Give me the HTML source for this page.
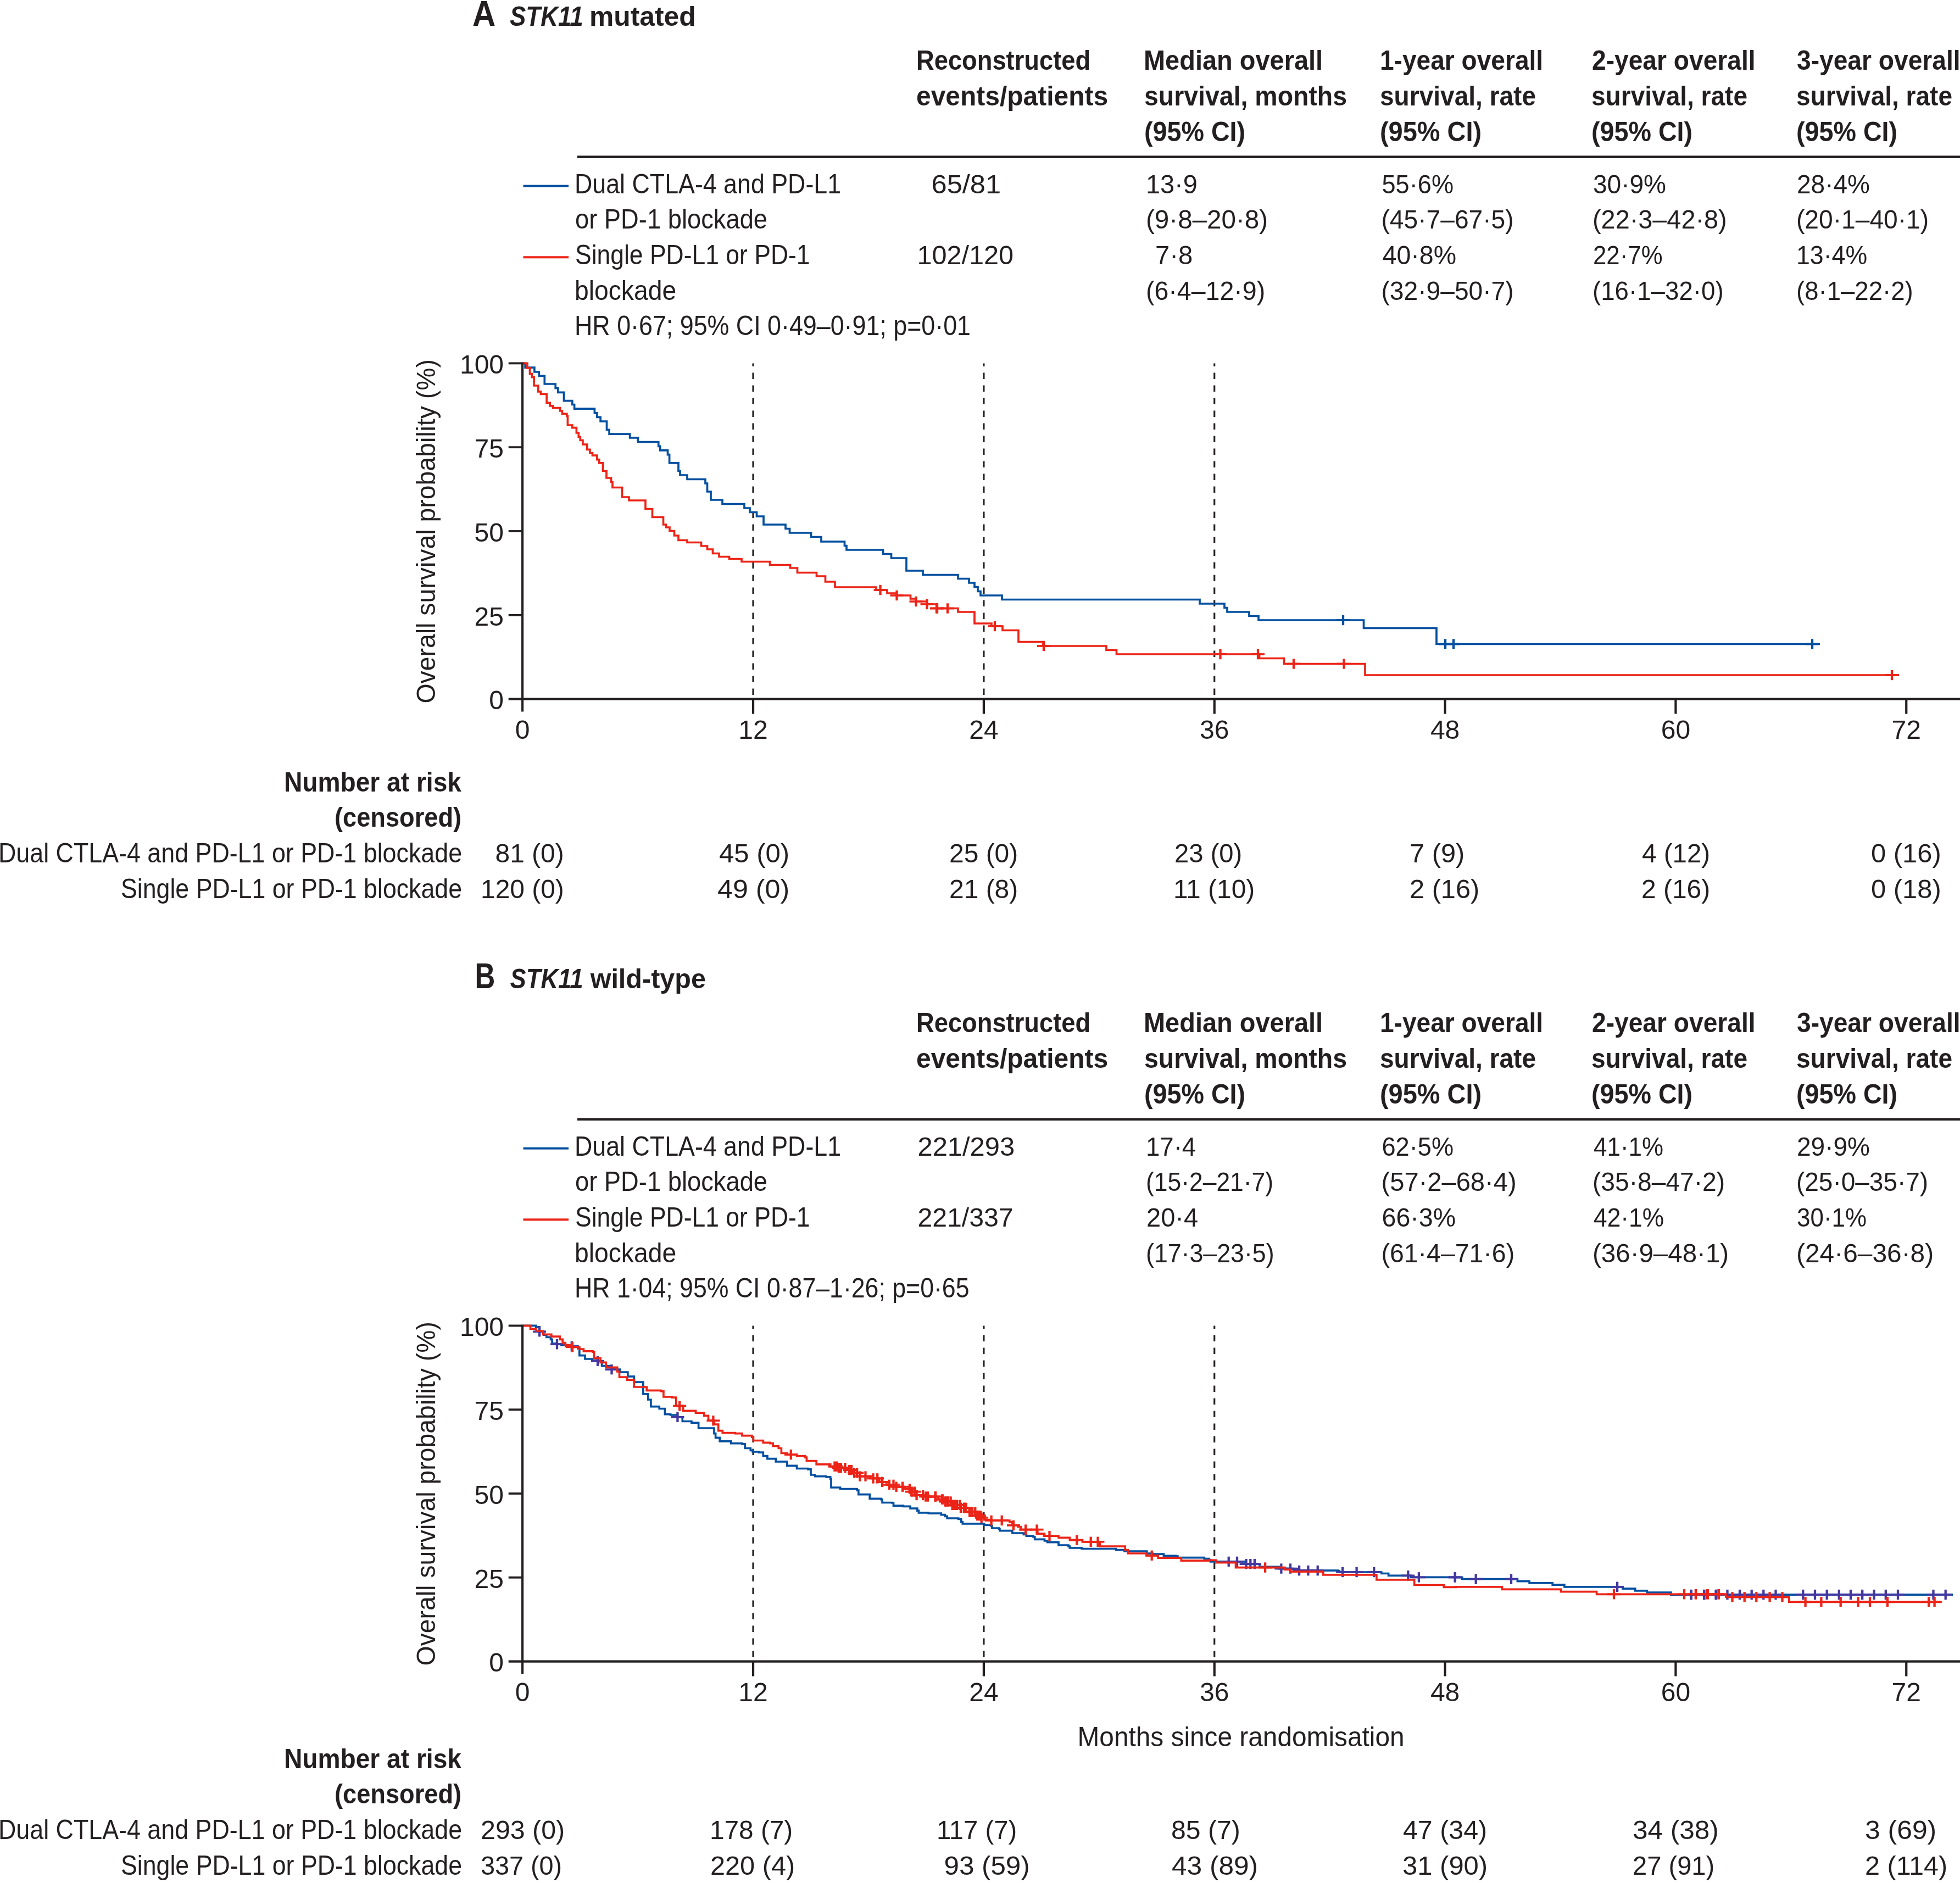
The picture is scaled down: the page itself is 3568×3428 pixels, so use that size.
<!DOCTYPE html>
<html><head><meta charset="utf-8"><style>
html,body{margin:0;padding:0;background:#fff;width:3568px;height:3428px;overflow:hidden}
svg{display:block;will-change:transform;font-family:"Liberation Sans",sans-serif}
</style></head><body>
<svg width="3568" height="3428" viewBox="0 0 3568 3428">
<rect width="3568" height="3428" fill="#ffffff"/>
<text x="860.00" y="46.50" font-size="65" font-weight="bold" font-style="normal" fill="#231f20" textLength="42.19" lengthAdjust="spacingAndGlyphs">A</text>
<text x="928.00" y="46.50" font-size="50" font-weight="bold" font-style="italic" fill="#231f20" textLength="133.59" lengthAdjust="spacingAndGlyphs">STK11</text>
<text x="1073.00" y="46.50" font-size="50" font-weight="bold" font-style="normal" fill="#231f20" textLength="193.69" lengthAdjust="spacingAndGlyphs">mutated</text>
<text x="1668.00" y="127.30" font-size="50" font-weight="bold" font-style="normal" fill="#231f20" textLength="317.10" lengthAdjust="spacingAndGlyphs">Reconstructed</text>
<text x="1668.00" y="192.30" font-size="50" font-weight="bold" font-style="normal" fill="#231f20" textLength="349.06" lengthAdjust="spacingAndGlyphs">events/patients</text>
<text x="2082.00" y="127.30" font-size="50" font-weight="bold" font-style="normal" fill="#231f20" textLength="326.11" lengthAdjust="spacingAndGlyphs">Median overall</text>
<text x="2083.00" y="192.30" font-size="50" font-weight="bold" font-style="normal" fill="#231f20" textLength="369.03" lengthAdjust="spacingAndGlyphs">survival, months</text>
<text x="2083.00" y="256.50" font-size="50" font-weight="bold" font-style="normal" fill="#231f20" textLength="184.11" lengthAdjust="spacingAndGlyphs">(95% CI)</text>
<text x="2512.00" y="127.30" font-size="50" font-weight="bold" font-style="normal" fill="#231f20" textLength="297.11" lengthAdjust="spacingAndGlyphs">1-year overall</text>
<text x="2512.00" y="192.30" font-size="50" font-weight="bold" font-style="normal" fill="#231f20" textLength="284.05" lengthAdjust="spacingAndGlyphs">survival, rate</text>
<text x="2512.00" y="256.50" font-size="50" font-weight="bold" font-style="normal" fill="#231f20" textLength="185.11" lengthAdjust="spacingAndGlyphs">(95% CI)</text>
<text x="2898.00" y="127.30" font-size="50" font-weight="bold" font-style="normal" fill="#231f20" textLength="297.55" lengthAdjust="spacingAndGlyphs">2-year overall</text>
<text x="2897.00" y="192.30" font-size="50" font-weight="bold" font-style="normal" fill="#231f20" textLength="284.05" lengthAdjust="spacingAndGlyphs">survival, rate</text>
<text x="2897.00" y="256.50" font-size="50" font-weight="bold" font-style="normal" fill="#231f20" textLength="184.11" lengthAdjust="spacingAndGlyphs">(95% CI)</text>
<text x="3271.00" y="127.30" font-size="50" font-weight="bold" font-style="normal" fill="#231f20" textLength="297.55" lengthAdjust="spacingAndGlyphs">3-year overall</text>
<text x="3270.00" y="192.30" font-size="50" font-weight="bold" font-style="normal" fill="#231f20" textLength="284.05" lengthAdjust="spacingAndGlyphs">survival, rate</text>
<text x="3270.00" y="256.50" font-size="50" font-weight="bold" font-style="normal" fill="#231f20" textLength="184.11" lengthAdjust="spacingAndGlyphs">(95% CI)</text>
<rect x="1051" y="283.4" width="2517" height="4.5" fill="#231f20"/>
<rect x="952.5" y="336.6" width="82.5" height="4" fill="#0450a0"/>
<rect x="952.5" y="466.3" width="82.5" height="4" fill="#ec2418"/>
<text x="1046.00" y="351.50" font-size="49.5" font-weight="normal" font-style="normal" fill="#231f20" textLength="485.07" lengthAdjust="spacingAndGlyphs">Dual CTLA-4 and PD-L1</text>
<text x="1047.00" y="416.00" font-size="49.5" font-weight="normal" font-style="normal" fill="#231f20" textLength="350.05" lengthAdjust="spacingAndGlyphs">or PD-1 blockade</text>
<text x="1047.00" y="481.00" font-size="49.5" font-weight="normal" font-style="normal" fill="#231f20" textLength="427.55" lengthAdjust="spacingAndGlyphs">Single PD-L1 or PD-1</text>
<text x="1046.00" y="545.50" font-size="49.5" font-weight="normal" font-style="normal" fill="#231f20" textLength="185.14" lengthAdjust="spacingAndGlyphs">blockade</text>
<text x="1046.00" y="610.00" font-size="49.5" font-weight="normal" font-style="normal" fill="#231f20" textLength="721.03" lengthAdjust="spacingAndGlyphs">HR 0·67; 95% CI 0·49–0·91; p=0·01</text>
<text x="1695.50" y="351.50" font-size="48" font-weight="normal" font-style="normal" fill="#231f20" textLength="126.68" lengthAdjust="spacingAndGlyphs">65/81</text>
<text x="1669.50" y="481.00" font-size="48" font-weight="normal" font-style="normal" fill="#231f20" textLength="175.65" lengthAdjust="spacingAndGlyphs">102/120</text>
<text x="2086.00" y="351.50" font-size="48" font-weight="normal" font-style="normal" fill="#231f20" textLength="93.80" lengthAdjust="spacingAndGlyphs">13·9</text>
<text x="2086.00" y="416.00" font-size="48" font-weight="normal" font-style="normal" fill="#231f20" textLength="222.17" lengthAdjust="spacingAndGlyphs">(9·8–20·8)</text>
<text x="2103.00" y="481.00" font-size="48" font-weight="normal" font-style="normal" fill="#231f20" textLength="68.28" lengthAdjust="spacingAndGlyphs">7·8</text>
<text x="2086.00" y="545.50" font-size="48" font-weight="normal" font-style="normal" fill="#231f20" textLength="217.12" lengthAdjust="spacingAndGlyphs">(6·4–12·9)</text>
<text x="2515.50" y="351.50" font-size="48" font-weight="normal" font-style="normal" fill="#231f20" textLength="130.55" lengthAdjust="spacingAndGlyphs">55·6%</text>
<text x="2514.50" y="416.00" font-size="48" font-weight="normal" font-style="normal" fill="#231f20" textLength="241.15" lengthAdjust="spacingAndGlyphs">(45·7–67·5)</text>
<text x="2516.50" y="481.00" font-size="48" font-weight="normal" font-style="normal" fill="#231f20" textLength="134.51" lengthAdjust="spacingAndGlyphs">40·8%</text>
<text x="2514.50" y="545.50" font-size="48" font-weight="normal" font-style="normal" fill="#231f20" textLength="241.15" lengthAdjust="spacingAndGlyphs">(32·9–50·7)</text>
<text x="2900.00" y="351.50" font-size="48" font-weight="normal" font-style="normal" fill="#231f20" textLength="133.05" lengthAdjust="spacingAndGlyphs">30·9%</text>
<text x="2899.00" y="416.00" font-size="48" font-weight="normal" font-style="normal" fill="#231f20" textLength="244.65" lengthAdjust="spacingAndGlyphs">(22·3–42·8)</text>
<text x="2900.00" y="481.00" font-size="48" font-weight="normal" font-style="normal" fill="#231f20" textLength="126.58" lengthAdjust="spacingAndGlyphs">22·7%</text>
<text x="2899.00" y="545.50" font-size="48" font-weight="normal" font-style="normal" fill="#231f20" textLength="238.63" lengthAdjust="spacingAndGlyphs">(16·1–32·0)</text>
<text x="3271.00" y="351.50" font-size="48" font-weight="normal" font-style="normal" fill="#231f20" textLength="133.05" lengthAdjust="spacingAndGlyphs">28·4%</text>
<text x="3270.00" y="416.00" font-size="48" font-weight="normal" font-style="normal" fill="#231f20" textLength="241.16" lengthAdjust="spacingAndGlyphs">(20·1–40·1)</text>
<text x="3270.00" y="481.00" font-size="48" font-weight="normal" font-style="normal" fill="#231f20" textLength="129.12" lengthAdjust="spacingAndGlyphs">13·4%</text>
<text x="3270.00" y="545.50" font-size="48" font-weight="normal" font-style="normal" fill="#231f20" textLength="212.64" lengthAdjust="spacingAndGlyphs">(8·1–22·2)</text>
<text transform="translate(792,967.3) rotate(-90)" text-anchor="middle" font-size="48" fill="#231f20" textLength="626.5" lengthAdjust="spacingAndGlyphs">Overall survival probability (%)</text>
<line x1="1371.04" y1="661.40" x2="1371.04" y2="1272.60" stroke="#231f20" stroke-width="3.2" stroke-dasharray="11.5,11.5" stroke-dashoffset="6"/>
<line x1="1790.89" y1="661.40" x2="1790.89" y2="1272.60" stroke="#231f20" stroke-width="3.2" stroke-dasharray="11.5,11.5" stroke-dashoffset="6"/>
<line x1="2210.73" y1="661.40" x2="2210.73" y2="1272.60" stroke="#231f20" stroke-width="3.2" stroke-dasharray="11.5,11.5" stroke-dashoffset="6"/>
<path d="M951.2,661.4 L956.1,661.4 L956.1,669.1 L972.9,669.1 L972.9,676.8 L981.3,676.8 L981.3,684.4 L991.3,684.4 L991.3,699.0 L1011.2,699.0 L1011.2,706.6 L1015.8,706.6 L1015.8,714.3 L1026.5,714.3 L1026.5,729.6 L1041.8,729.6 L1041.8,736.5 L1045.6,736.5 L1045.6,744.1 L1082.4,744.1 L1082.4,751.8 L1086.9,751.8 L1086.9,759.4 L1093.1,759.4 L1093.1,767.1 L1104.5,767.1 L1104.5,782.4 L1109.1,782.4 L1109.1,790.1 L1146.6,790.1 L1146.6,796.9 L1161.2,796.9 L1161.2,804.6 L1198.7,804.6 L1198.7,812.3 L1201.7,812.3 L1201.7,819.9 L1215.5,819.9 L1215.5,827.6 L1218.6,827.6 L1218.6,842.9 L1235.0,842.9 L1235.0,857.5 L1238.0,857.5 L1238.0,865.0 L1251.0,865.0 L1251.0,872.5 L1284.0,872.5 L1284.0,880.0 L1287.5,880.0 L1287.5,895.0 L1294.0,895.0 L1294.0,910.0 L1315.0,910.0 L1315.0,917.5 L1355.0,917.5 L1355.0,925.0 L1365.0,925.0 L1365.0,932.5 L1377.5,932.5 L1377.5,940.0 L1390.0,940.0 L1390.0,955.0 L1430.0,955.0 L1430.0,962.5 L1437.5,962.5 L1437.5,970.0 L1476.5,970.0 L1476.5,977.5 L1495.0,977.5 L1495.0,986.0 L1537.5,986.0 L1537.5,993.5 L1541.0,993.5 L1541.0,1001.0 L1607.5,1001.0 L1607.5,1008.5 L1622.5,1008.5 L1622.5,1016.0 L1650.0,1016.0 L1650.0,1039.0 L1680.0,1039.0 L1680.0,1046.5 L1744.0,1046.5 L1744.0,1053.5 L1764.0,1053.5 L1764.0,1061.0 L1774.0,1061.0 L1774.0,1068.5 L1780.0,1068.5 L1780.0,1076.5 L1785.0,1076.5 L1785.0,1084.0 L1824.0,1084.0 L1824.0,1091.5 L2184.0,1091.5 L2184.0,1099.0 L2229.0,1099.0 L2229.0,1106.5 L2234.0,1106.5 L2234.0,1114.0 L2274.0,1114.0 L2274.0,1121.5 L2291.0,1121.5 L2291.0,1129.0 L2482.5,1129.0 L2482.5,1143.5 L2615.0,1143.5 L2615.0,1172.5 L3313.0,1172.5 L3313.0,1172.5" fill="none" stroke="#0450a0" stroke-width="3.7" stroke-linejoin="miter" stroke-linecap="butt"/>
<path d="M2433.0,1129.0 H2457.0" stroke="#0450a0" stroke-width="3.7" fill="none"/><path d="M2445.0,1119.8 V1138.2" stroke="#0450a0" stroke-width="4.3" fill="none"/>
<path d="M2619.0,1172.5 H2643.0" stroke="#0450a0" stroke-width="3.7" fill="none"/><path d="M2631.0,1163.3 V1181.7" stroke="#0450a0" stroke-width="4.3" fill="none"/>
<path d="M2634.0,1172.5 H2658.0" stroke="#0450a0" stroke-width="3.7" fill="none"/><path d="M2646.0,1163.3 V1181.7" stroke="#0450a0" stroke-width="4.3" fill="none"/>
<path d="M3287.0,1172.5 H3311.0" stroke="#0450a0" stroke-width="3.7" fill="none"/><path d="M3299.0,1163.3 V1181.7" stroke="#0450a0" stroke-width="4.3" fill="none"/>
<path d="M951.2,661.4 L959.9,661.4 L959.9,669.9 L964.5,669.9 L964.5,680.6 L968.3,680.6 L968.3,686.7 L972.1,686.7 L972.1,702.0 L979.8,702.0 L979.8,712.8 L984.4,712.8 L984.4,717.3 L995.1,717.3 L995.1,733.4 L1001.2,733.4 L1001.2,738.8 L1006.6,738.8 L1006.6,742.6 L1019.6,742.6 L1019.6,748.0 L1023.4,748.0 L1023.4,753.3 L1031.8,753.3 L1031.8,757.1 L1033.4,757.1 L1033.4,774.0 L1041.8,774.0 L1041.8,778.6 L1049.4,778.6 L1049.4,787.8 L1053.3,787.8 L1053.3,795.4 L1056.3,795.4 L1056.3,801.5 L1060.9,801.5 L1060.9,809.2 L1068.6,809.2 L1068.6,818.4 L1073.9,818.4 L1073.9,824.5 L1078.5,824.5 L1078.5,829.1 L1086.9,829.1 L1086.9,836.7 L1090.8,836.7 L1090.8,842.9 L1097.5,842.9 L1097.5,857.5 L1104.0,857.5 L1104.0,870.0 L1112.5,870.0 L1112.5,877.5 L1115.0,877.5 L1115.0,887.5 L1132.5,887.5 L1132.5,905.0 L1145.0,905.0 L1145.0,911.0 L1175.0,911.0 L1175.0,926.5 L1187.5,926.5 L1187.5,941.5 L1207.5,941.5 L1207.5,955.0 L1212.5,955.0 L1212.5,960.0 L1219.0,960.0 L1219.0,966.5 L1227.5,966.5 L1227.5,975.0 L1235.0,975.0 L1235.0,983.5 L1251.0,983.5 L1251.0,987.5 L1276.5,987.5 L1276.5,994.0 L1287.5,994.0 L1287.5,1000.0 L1297.5,1000.0 L1297.5,1007.5 L1309.0,1007.5 L1309.0,1013.5 L1327.5,1013.5 L1327.5,1017.5 L1350.0,1017.5 L1350.0,1022.5 L1401.5,1022.5 L1401.5,1028.5 L1438.5,1028.5 L1438.5,1034.0 L1451.5,1034.0 L1451.5,1042.5 L1486.5,1042.5 L1486.5,1049.0 L1502.5,1049.0 L1502.5,1059.0 L1520.0,1059.0 L1520.0,1069.0 L1595.0,1069.0 L1595.0,1074.0 L1615.0,1074.0 L1615.0,1080.0 L1632.5,1080.0 L1632.5,1084.0 L1657.5,1084.0 L1657.5,1090.0 L1667.5,1090.0 L1667.5,1095.0 L1687.5,1095.0 L1687.5,1100.0 L1705.0,1100.0 L1705.0,1107.5 L1744.0,1107.5 L1744.0,1114.0 L1774.0,1114.0 L1774.0,1135.0 L1805.0,1135.0 L1805.0,1140.0 L1825.0,1140.0 L1825.0,1147.5 L1854.0,1147.5 L1854.0,1168.5 L1899.0,1168.5 L1899.0,1176.0 L2014.0,1176.0 L2014.0,1183.5 L2032.5,1183.5 L2032.5,1191.0 L2292.5,1191.0 L2292.5,1198.5 L2337.5,1198.5 L2337.5,1208.5 L2485.0,1208.5 L2485.0,1229.0 L3457.0,1229.0 L3457.0,1229.0" fill="none" stroke="#ec2418" stroke-width="3.7" stroke-linejoin="miter" stroke-linecap="butt"/>
<path d="M1590.5,1074.0 H1614.5" stroke="#ec2418" stroke-width="3.7" fill="none"/><path d="M1602.5,1064.8 V1083.2" stroke="#ec2418" stroke-width="4.3" fill="none"/>
<path d="M1620.5,1084.0 H1644.5" stroke="#ec2418" stroke-width="3.7" fill="none"/><path d="M1632.5,1074.8 V1093.2" stroke="#ec2418" stroke-width="4.3" fill="none"/>
<path d="M1655.5,1095.0 H1679.5" stroke="#ec2418" stroke-width="3.7" fill="none"/><path d="M1667.5,1085.8 V1104.2" stroke="#ec2418" stroke-width="4.3" fill="none"/>
<path d="M1675.5,1100.0 H1699.5" stroke="#ec2418" stroke-width="3.7" fill="none"/><path d="M1687.5,1090.8 V1109.2" stroke="#ec2418" stroke-width="4.3" fill="none"/>
<path d="M1693.0,1107.5 H1717.0" stroke="#ec2418" stroke-width="3.7" fill="none"/><path d="M1705.0,1098.3 V1116.7" stroke="#ec2418" stroke-width="4.3" fill="none"/>
<path d="M1694.0,1107.5 H1718.0" stroke="#ec2418" stroke-width="3.7" fill="none"/><path d="M1706.0,1098.3 V1116.7" stroke="#ec2418" stroke-width="4.3" fill="none"/>
<path d="M1713.0,1107.5 H1737.0" stroke="#ec2418" stroke-width="3.7" fill="none"/><path d="M1725.0,1098.3 V1116.7" stroke="#ec2418" stroke-width="4.3" fill="none"/>
<path d="M1799.0,1140.0 H1823.0" stroke="#ec2418" stroke-width="3.7" fill="none"/><path d="M1811.0,1130.8 V1149.2" stroke="#ec2418" stroke-width="4.3" fill="none"/>
<path d="M1888.0,1176.0 H1912.0" stroke="#ec2418" stroke-width="3.7" fill="none"/><path d="M1900.0,1166.8 V1185.2" stroke="#ec2418" stroke-width="4.3" fill="none"/>
<path d="M2209.5,1191.0 H2233.5" stroke="#ec2418" stroke-width="3.7" fill="none"/><path d="M2221.5,1181.8 V1200.2" stroke="#ec2418" stroke-width="4.3" fill="none"/>
<path d="M2278.0,1191.0 H2302.0" stroke="#ec2418" stroke-width="3.7" fill="none"/><path d="M2290.0,1181.8 V1200.2" stroke="#ec2418" stroke-width="4.3" fill="none"/>
<path d="M2343.0,1208.5 H2367.0" stroke="#ec2418" stroke-width="3.7" fill="none"/><path d="M2355.0,1199.3 V1217.7" stroke="#ec2418" stroke-width="4.3" fill="none"/>
<path d="M2434.5,1208.5 H2458.5" stroke="#ec2418" stroke-width="3.7" fill="none"/><path d="M2446.5,1199.3 V1217.7" stroke="#ec2418" stroke-width="4.3" fill="none"/>
<path d="M3432.0,1229.0 H3456.0" stroke="#ec2418" stroke-width="3.7" fill="none"/><path d="M3444.0,1219.8 V1238.2" stroke="#ec2418" stroke-width="4.3" fill="none"/>
<line x1="951.10" y1="659.70" x2="951.10" y2="1295.60" stroke="#231f20" stroke-width="4.1" />
<line x1="925.70" y1="1272.60" x2="3568.00" y2="1272.60" stroke="#231f20" stroke-width="4.1" />
<line x1="925.70" y1="661.40" x2="951.10" y2="661.40" stroke="#231f20" stroke-width="3.8" />
<line x1="925.70" y1="814.20" x2="951.10" y2="814.20" stroke="#231f20" stroke-width="3.8" />
<line x1="925.70" y1="967.00" x2="951.10" y2="967.00" stroke="#231f20" stroke-width="3.8" />
<line x1="925.70" y1="1119.80" x2="951.10" y2="1119.80" stroke="#231f20" stroke-width="3.8" />
<line x1="1371.04" y1="1272.60" x2="1371.04" y2="1299.60" stroke="#231f20" stroke-width="4.2" />
<line x1="1790.89" y1="1272.60" x2="1790.89" y2="1299.60" stroke="#231f20" stroke-width="4.2" />
<line x1="2210.73" y1="1272.60" x2="2210.73" y2="1299.60" stroke="#231f20" stroke-width="4.2" />
<line x1="2630.58" y1="1272.60" x2="2630.58" y2="1299.60" stroke="#231f20" stroke-width="4.2" />
<line x1="3050.42" y1="1272.60" x2="3050.42" y2="1299.60" stroke="#231f20" stroke-width="4.2" />
<line x1="3470.26" y1="1272.60" x2="3470.26" y2="1299.60" stroke="#231f20" stroke-width="4.2" />
<text x="836.94" y="680.20" font-size="48" font-weight="normal" font-style="normal" fill="#231f20" textLength="80.09" lengthAdjust="spacingAndGlyphs">100</text>
<text x="863.62" y="833.00" font-size="48" font-weight="normal" font-style="normal" fill="#231f20" textLength="53.39" lengthAdjust="spacingAndGlyphs">75</text>
<text x="863.62" y="985.80" font-size="48" font-weight="normal" font-style="normal" fill="#231f20" textLength="53.39" lengthAdjust="spacingAndGlyphs">50</text>
<text x="863.62" y="1138.60" font-size="48" font-weight="normal" font-style="normal" fill="#231f20" textLength="53.39" lengthAdjust="spacingAndGlyphs">25</text>
<text x="890.31" y="1291.40" font-size="48" font-weight="normal" font-style="normal" fill="#231f20" textLength="26.70" lengthAdjust="spacingAndGlyphs">0</text>
<text x="937.86" y="1345.30" font-size="48" font-weight="normal" font-style="normal" fill="#231f20" textLength="26.70" lengthAdjust="spacingAndGlyphs">0</text>
<text x="1344.36" y="1345.30" font-size="48" font-weight="normal" font-style="normal" fill="#231f20" textLength="53.39" lengthAdjust="spacingAndGlyphs">12</text>
<text x="1764.20" y="1345.30" font-size="48" font-weight="normal" font-style="normal" fill="#231f20" textLength="53.39" lengthAdjust="spacingAndGlyphs">24</text>
<text x="2184.04" y="1345.30" font-size="48" font-weight="normal" font-style="normal" fill="#231f20" textLength="53.39" lengthAdjust="spacingAndGlyphs">36</text>
<text x="2603.89" y="1345.30" font-size="48" font-weight="normal" font-style="normal" fill="#231f20" textLength="53.39" lengthAdjust="spacingAndGlyphs">48</text>
<text x="3023.73" y="1345.30" font-size="48" font-weight="normal" font-style="normal" fill="#231f20" textLength="53.39" lengthAdjust="spacingAndGlyphs">60</text>
<text x="3443.58" y="1345.30" font-size="48" font-weight="normal" font-style="normal" fill="#231f20" textLength="53.39" lengthAdjust="spacingAndGlyphs">72</text>
<text x="517.00" y="1440.60" font-size="50" font-weight="bold" font-style="normal" fill="#231f20" textLength="322.95" lengthAdjust="spacingAndGlyphs">Number at risk</text>
<text x="609.00" y="1505.00" font-size="50" font-weight="bold" font-style="normal" fill="#231f20" textLength="231.08" lengthAdjust="spacingAndGlyphs">(censored)</text>
<text x="-3.00" y="1570.00" font-size="49.5" font-weight="normal" font-style="normal" fill="#231f20" textLength="844.05" lengthAdjust="spacingAndGlyphs">Dual CTLA-4 and PD-L1 or PD-1 blockade</text>
<text x="220.00" y="1634.50" font-size="49.5" font-weight="normal" font-style="normal" fill="#231f20" textLength="621.02" lengthAdjust="spacingAndGlyphs">Single PD-L1 or PD-1 blockade</text>
<text x="901.50" y="1570.00" font-size="48" font-weight="normal" font-style="normal" fill="#231f20" textLength="125.19" lengthAdjust="spacingAndGlyphs">81 (0)</text>
<text x="1309.00" y="1570.00" font-size="48" font-weight="normal" font-style="normal" fill="#231f20" textLength="128.15" lengthAdjust="spacingAndGlyphs">45 (0)</text>
<text x="1728.00" y="1570.00" font-size="48" font-weight="normal" font-style="normal" fill="#231f20" textLength="125.21" lengthAdjust="spacingAndGlyphs">25 (0)</text>
<text x="2138.00" y="1570.00" font-size="48" font-weight="normal" font-style="normal" fill="#231f20" textLength="123.20" lengthAdjust="spacingAndGlyphs">23 (0)</text>
<text x="2566.00" y="1570.00" font-size="48" font-weight="normal" font-style="normal" fill="#231f20" textLength="100.29" lengthAdjust="spacingAndGlyphs">7 (9)</text>
<text x="2989.00" y="1570.00" font-size="48" font-weight="normal" font-style="normal" fill="#231f20" textLength="124.15" lengthAdjust="spacingAndGlyphs">4 (12)</text>
<text x="3406.00" y="1570.00" font-size="48" font-weight="normal" font-style="normal" fill="#231f20" textLength="127.71" lengthAdjust="spacingAndGlyphs">0 (16)</text>
<text x="875.00" y="1634.50" font-size="48" font-weight="normal" font-style="normal" fill="#231f20" textLength="151.77" lengthAdjust="spacingAndGlyphs">120 (0)</text>
<text x="1306.00" y="1634.50" font-size="48" font-weight="normal" font-style="normal" fill="#231f20" textLength="131.15" lengthAdjust="spacingAndGlyphs">49 (0)</text>
<text x="1728.00" y="1634.50" font-size="48" font-weight="normal" font-style="normal" fill="#231f20" textLength="125.21" lengthAdjust="spacingAndGlyphs">21 (8)</text>
<text x="2136.00" y="1634.50" font-size="48" font-weight="normal" font-style="normal" fill="#231f20" textLength="148.28" lengthAdjust="spacingAndGlyphs">11 (10)</text>
<text x="2566.00" y="1634.50" font-size="48" font-weight="normal" font-style="normal" fill="#231f20" textLength="127.28" lengthAdjust="spacingAndGlyphs">2 (16)</text>
<text x="2988.00" y="1634.50" font-size="48" font-weight="normal" font-style="normal" fill="#231f20" textLength="125.23" lengthAdjust="spacingAndGlyphs">2 (16)</text>
<text x="3406.00" y="1634.50" font-size="48" font-weight="normal" font-style="normal" fill="#231f20" textLength="127.71" lengthAdjust="spacingAndGlyphs">0 (18)</text>
<text x="864.50" y="1798.50" font-size="65" font-weight="bold" font-style="normal" fill="#231f20" textLength="36.83" lengthAdjust="spacingAndGlyphs">B</text>
<text x="928.50" y="1798.50" font-size="50" font-weight="bold" font-style="italic" fill="#231f20" textLength="133.06" lengthAdjust="spacingAndGlyphs">STK11</text>
<text x="1074.64" y="1798.50" font-size="50" font-weight="bold" font-style="normal" fill="#231f20" textLength="210.34" lengthAdjust="spacingAndGlyphs">wild-type</text>
<text x="1668.00" y="1879.30" font-size="50" font-weight="bold" font-style="normal" fill="#231f20" textLength="317.10" lengthAdjust="spacingAndGlyphs">Reconstructed</text>
<text x="1668.00" y="1944.30" font-size="50" font-weight="bold" font-style="normal" fill="#231f20" textLength="349.06" lengthAdjust="spacingAndGlyphs">events/patients</text>
<text x="2082.00" y="1879.30" font-size="50" font-weight="bold" font-style="normal" fill="#231f20" textLength="326.11" lengthAdjust="spacingAndGlyphs">Median overall</text>
<text x="2083.00" y="1944.30" font-size="50" font-weight="bold" font-style="normal" fill="#231f20" textLength="369.03" lengthAdjust="spacingAndGlyphs">survival, months</text>
<text x="2083.00" y="2008.50" font-size="50" font-weight="bold" font-style="normal" fill="#231f20" textLength="184.11" lengthAdjust="spacingAndGlyphs">(95% CI)</text>
<text x="2512.00" y="1879.30" font-size="50" font-weight="bold" font-style="normal" fill="#231f20" textLength="297.11" lengthAdjust="spacingAndGlyphs">1-year overall</text>
<text x="2512.00" y="1944.30" font-size="50" font-weight="bold" font-style="normal" fill="#231f20" textLength="284.05" lengthAdjust="spacingAndGlyphs">survival, rate</text>
<text x="2512.00" y="2008.50" font-size="50" font-weight="bold" font-style="normal" fill="#231f20" textLength="185.11" lengthAdjust="spacingAndGlyphs">(95% CI)</text>
<text x="2898.00" y="1879.30" font-size="50" font-weight="bold" font-style="normal" fill="#231f20" textLength="297.55" lengthAdjust="spacingAndGlyphs">2-year overall</text>
<text x="2897.00" y="1944.30" font-size="50" font-weight="bold" font-style="normal" fill="#231f20" textLength="284.05" lengthAdjust="spacingAndGlyphs">survival, rate</text>
<text x="2897.00" y="2008.50" font-size="50" font-weight="bold" font-style="normal" fill="#231f20" textLength="184.11" lengthAdjust="spacingAndGlyphs">(95% CI)</text>
<text x="3271.00" y="1879.30" font-size="50" font-weight="bold" font-style="normal" fill="#231f20" textLength="297.55" lengthAdjust="spacingAndGlyphs">3-year overall</text>
<text x="3270.00" y="1944.30" font-size="50" font-weight="bold" font-style="normal" fill="#231f20" textLength="284.05" lengthAdjust="spacingAndGlyphs">survival, rate</text>
<text x="3270.00" y="2008.50" font-size="50" font-weight="bold" font-style="normal" fill="#231f20" textLength="184.11" lengthAdjust="spacingAndGlyphs">(95% CI)</text>
<rect x="1051" y="2035.4" width="2517" height="4.5" fill="#231f20"/>
<rect x="952.5" y="2088.6" width="82.5" height="4" fill="#0450a0"/>
<rect x="952.5" y="2218.3" width="82.5" height="4" fill="#ec2418"/>
<text x="1046.00" y="2103.50" font-size="49.5" font-weight="normal" font-style="normal" fill="#231f20" textLength="485.07" lengthAdjust="spacingAndGlyphs">Dual CTLA-4 and PD-L1</text>
<text x="1047.00" y="2168.00" font-size="49.5" font-weight="normal" font-style="normal" fill="#231f20" textLength="350.05" lengthAdjust="spacingAndGlyphs">or PD-1 blockade</text>
<text x="1047.00" y="2233.00" font-size="49.5" font-weight="normal" font-style="normal" fill="#231f20" textLength="427.55" lengthAdjust="spacingAndGlyphs">Single PD-L1 or PD-1</text>
<text x="1046.00" y="2297.50" font-size="49.5" font-weight="normal" font-style="normal" fill="#231f20" textLength="185.14" lengthAdjust="spacingAndGlyphs">blockade</text>
<text x="1046.00" y="2362.00" font-size="49.5" font-weight="normal" font-style="normal" fill="#231f20" textLength="718.53" lengthAdjust="spacingAndGlyphs">HR 1·04; 95% CI 0·87–1·26; p=0·65</text>
<text x="1670.50" y="2103.50" font-size="48" font-weight="normal" font-style="normal" fill="#231f20" textLength="176.60" lengthAdjust="spacingAndGlyphs">221/293</text>
<text x="1670.50" y="2233.00" font-size="48" font-weight="normal" font-style="normal" fill="#231f20" textLength="174.12" lengthAdjust="spacingAndGlyphs">221/337</text>
<text x="2086.00" y="2103.50" font-size="48" font-weight="normal" font-style="normal" fill="#231f20" textLength="91.21" lengthAdjust="spacingAndGlyphs">17·4</text>
<text x="2086.00" y="2168.00" font-size="48" font-weight="normal" font-style="normal" fill="#231f20" textLength="232.11" lengthAdjust="spacingAndGlyphs">(15·2–21·7)</text>
<text x="2087.00" y="2233.00" font-size="48" font-weight="normal" font-style="normal" fill="#231f20" textLength="94.13" lengthAdjust="spacingAndGlyphs">20·4</text>
<text x="2086.00" y="2297.50" font-size="48" font-weight="normal" font-style="normal" fill="#231f20" textLength="233.61" lengthAdjust="spacingAndGlyphs">(17·3–23·5)</text>
<text x="2515.50" y="2103.50" font-size="48" font-weight="normal" font-style="normal" fill="#231f20" textLength="130.57" lengthAdjust="spacingAndGlyphs">62·5%</text>
<text x="2514.50" y="2168.00" font-size="48" font-weight="normal" font-style="normal" fill="#231f20" textLength="246.14" lengthAdjust="spacingAndGlyphs">(57·2–68·4)</text>
<text x="2515.50" y="2233.00" font-size="48" font-weight="normal" font-style="normal" fill="#231f20" textLength="134.57" lengthAdjust="spacingAndGlyphs">66·3%</text>
<text x="2514.50" y="2297.50" font-size="48" font-weight="normal" font-style="normal" fill="#231f20" textLength="242.63" lengthAdjust="spacingAndGlyphs">(61·4–71·6)</text>
<text x="2901.00" y="2103.50" font-size="48" font-weight="normal" font-style="normal" fill="#231f20" textLength="127.02" lengthAdjust="spacingAndGlyphs">41·1%</text>
<text x="2899.00" y="2168.00" font-size="48" font-weight="normal" font-style="normal" fill="#231f20" textLength="241.15" lengthAdjust="spacingAndGlyphs">(35·8–47·2)</text>
<text x="2901.00" y="2233.00" font-size="48" font-weight="normal" font-style="normal" fill="#231f20" textLength="128.02" lengthAdjust="spacingAndGlyphs">42·1%</text>
<text x="2899.00" y="2297.50" font-size="48" font-weight="normal" font-style="normal" fill="#231f20" textLength="248.16" lengthAdjust="spacingAndGlyphs">(36·9–48·1)</text>
<text x="3271.00" y="2103.50" font-size="48" font-weight="normal" font-style="normal" fill="#231f20" textLength="133.05" lengthAdjust="spacingAndGlyphs">29·9%</text>
<text x="3270.00" y="2168.00" font-size="48" font-weight="normal" font-style="normal" fill="#231f20" textLength="240.17" lengthAdjust="spacingAndGlyphs">(25·0–35·7)</text>
<text x="3271.00" y="2233.00" font-size="48" font-weight="normal" font-style="normal" fill="#231f20" textLength="127.06" lengthAdjust="spacingAndGlyphs">30·1%</text>
<text x="3270.00" y="2297.50" font-size="48" font-weight="normal" font-style="normal" fill="#231f20" textLength="250.16" lengthAdjust="spacingAndGlyphs">(24·6–36·8)</text>
<text transform="translate(792,2719.3) rotate(-90)" text-anchor="middle" font-size="48" fill="#231f20" textLength="626.5" lengthAdjust="spacingAndGlyphs">Overall survival probability (%)</text>
<line x1="1371.04" y1="2413.40" x2="1371.04" y2="3024.60" stroke="#231f20" stroke-width="3.2" stroke-dasharray="11.5,11.5" stroke-dashoffset="6"/>
<line x1="1790.89" y1="2413.40" x2="1790.89" y2="3024.60" stroke="#231f20" stroke-width="3.2" stroke-dasharray="11.5,11.5" stroke-dashoffset="6"/>
<line x1="2210.73" y1="2413.40" x2="2210.73" y2="3024.60" stroke="#231f20" stroke-width="3.2" stroke-dasharray="11.5,11.5" stroke-dashoffset="6"/>
<path d="M951.5,2413.3 L965.5,2413.3 L975.7,2413.3 L975.7,2415.8 L982.1,2415.8 L982.1,2424.2 L989.7,2424.2 L989.7,2430.1 L994.8,2430.1 L994.8,2434.4 L1002.5,2434.4 L1002.5,2438.3 L1005.1,2438.3 L1005.1,2445.9 L1014.0,2445.9 L1014.0,2447.2 L1021.6,2447.2 L1021.6,2449.0 L1040.8,2449.0 L1040.8,2451.0 L1052.2,2451.0 L1052.2,2454.8 L1054.8,2454.8 L1054.8,2467.6 L1065.0,2467.6 L1065.0,2474.0 L1077.8,2474.0 L1077.8,2476.5 L1088.0,2476.5 L1088.0,2477.8 L1095.6,2477.8 L1095.6,2486.7 L1113.5,2486.7 L1113.5,2493.1 L1128.8,2493.1 L1128.8,2498.2 L1142.8,2498.2 L1142.8,2505.9 L1154.3,2505.9 L1154.3,2516.1 L1168.3,2516.1 L1170.9,2516.1 L1170.9,2537.8 L1179.8,2537.8 L1179.8,2548.0 L1184.9,2548.0 L1184.9,2560.7 L1200.2,2560.7 L1200.2,2564.5 L1210.4,2564.5 L1210.4,2574.7 L1220.6,2574.7 L1220.6,2576.0 L1233.4,2576.0 L1233.4,2579.8 L1242.3,2579.8 L1242.3,2587.5 L1258.9,2587.5 L1258.9,2590.1 L1271.6,2590.1 L1271.6,2600.0 L1300.0,2600.0 L1300.0,2609.7 L1302.6,2609.7 L1302.6,2617.4 L1310.2,2617.4 L1310.2,2623.8 L1330.6,2623.8 L1330.6,2627.6 L1351.0,2627.6 L1351.0,2628.9 L1356.1,2628.9 L1356.1,2636.5 L1366.3,2636.5 L1366.3,2640.4 L1370.2,2640.4 L1370.2,2642.9 L1381.6,2642.9 L1381.6,2644.2 L1389.3,2644.2 L1389.3,2650.6 L1396.9,2650.6 L1396.9,2655.7 L1412.2,2655.7 L1412.2,2658.2 L1412.2,2660.8 L1430.1,2660.8 L1432.7,2660.8 L1432.7,2668.4 L1450.5,2668.4 L1450.5,2673.5 L1470.9,2673.5 L1470.9,2674.8 L1476.0,2674.8 L1476.0,2685.0 L1483.7,2685.0 L1483.7,2687.6 L1504.1,2687.6 L1504.1,2688.8 L1511.7,2688.8 L1511.7,2692.7 L1513.0,2692.7 L1513.0,2708.0 L1529.6,2708.0 L1529.6,2710.5 L1560.2,2710.5 L1560.2,2713.1 L1562.8,2713.1 L1562.8,2720.7 L1583.2,2720.7 L1583.2,2728.4 L1603.6,2728.4 L1603.6,2729.6 L1606.1,2729.6 L1606.1,2735.5 L1624.0,2735.5 L1624.0,2736.0 L1626.5,2736.0 L1626.5,2741.1 L1644.4,2741.1 L1644.4,2742.4 L1657.1,2742.4 L1657.1,2746.2 L1669.9,2746.2 L1669.9,2750.1 L1672.4,2750.1 L1672.4,2753.9 L1690.3,2753.9 L1690.3,2755.2 L1713.3,2755.2 L1713.3,2757.7 L1720.4,2757.7 L1720.4,2760.4 L1723.0,2760.4 L1724.2,2760.4 L1724.2,2764.2 L1744.6,2764.2 L1744.6,2765.5 L1749.7,2765.5 L1749.7,2770.6 L1752.3,2770.6 L1752.3,2773.9 L1789.3,2773.9 L1791.8,2773.9 L1791.8,2776.4 L1804.6,2776.4 L1804.6,2778.2 L1805.9,2778.2 L1805.9,2782.0 L1818.6,2782.0 L1818.6,2783.3 L1819.9,2783.3 L1819.9,2786.6 L1841.6,2786.6 L1842.9,2786.6 L1842.9,2791.0 L1863.3,2791.0 L1863.3,2793.5 L1868.4,2793.5 L1868.4,2796.1 L1881.1,2796.1 L1881.1,2797.9 L1883.7,2797.9 L1883.7,2802.4 L1901.5,2802.4 L1901.5,2805.0 L1906.6,2805.0 L1906.6,2807.6 L1924.5,2807.6 L1927.0,2807.6 L1927.0,2813.2 L1944.9,2813.2 L1944.9,2815.2 L1947.4,2815.2 L1947.4,2817.8 L1967.9,2817.8 L1969.1,2817.8 L1969.1,2819.5 L2030.4,2819.5 L2031.6,2819.5 L2031.6,2821.6 L2044.4,2821.6 L2046.9,2821.6 L2046.9,2824.1 L2082.7,2824.1 L2087.8,2824.1 L2087.8,2828.0 L2098.0,2828.0 L2098.0,2829.2 L2118.4,2829.2 L2118.4,2832.3 L2141.3,2832.3 L2141.3,2833.1 L2143.9,2833.1 L2143.9,2835.6 L2189.8,2835.6 L2192.3,2835.6 L2192.3,2837.7 L2200.0,2837.7 L2201.0,2837.7 L2201.0,2839.5 L2203.6,2839.5 L2203.6,2842.9 L2262.2,2842.9 L2267.3,2842.9 L2267.3,2847.2 L2292.9,2847.2 L2292.9,2852.3 L2328.6,2852.3 L2328.6,2855.6 L2354.1,2855.6 L2354.1,2856.6 L2361.7,2856.6 L2361.7,2859.2 L2410.2,2859.2 L2435.7,2859.2 L2435.7,2859.9 L2438.3,2859.9 L2438.3,2862.0 L2512.2,2862.0 L2514.8,2862.0 L2514.8,2864.5 L2525.0,2864.5 L2527.6,2864.5 L2527.6,2868.4 L2563.3,2868.4 L2568.4,2868.4 L2568.4,2871.4 L2650.0,2871.4 L2650.2,2871.4 L2650.2,2871.7 L2661.7,2871.7 L2661.7,2874.7 L2762.4,2874.7 L2762.4,2878.6 L2784.1,2878.6 L2784.1,2881.9 L2826.2,2881.9 L2826.2,2885.2 L2847.9,2885.2 L2847.9,2888.8 L2953.8,2888.8 L2953.8,2892.1 L2976.7,2892.1 L2976.7,2895.9 L2998.4,2895.9 L2998.4,2899.0 L3041.8,2899.0 L3041.8,2903.6 L3068.0,2903.6 L3068.0,2903.1 L3555.2,2903.1" fill="none" stroke="#0450a0" stroke-width="3.7" stroke-linejoin="miter" stroke-linecap="butt"/>
<path d="M970.1,2424.2 H994.1" stroke="#4338a0" stroke-width="3.7" fill="none"/><path d="M982.1,2415.0 V2433.4" stroke="#4338a0" stroke-width="4.3" fill="none"/>
<path d="M1002.0,2447.2 H1026.0" stroke="#4338a0" stroke-width="3.7" fill="none"/><path d="M1014.0,2438.0 V2456.4" stroke="#4338a0" stroke-width="4.3" fill="none"/>
<path d="M1028.8,2451.0 H1052.8" stroke="#4338a0" stroke-width="3.7" fill="none"/><path d="M1040.8,2441.8 V2460.2" stroke="#4338a0" stroke-width="4.3" fill="none"/>
<path d="M1076.0,2477.8 H1100.0" stroke="#4338a0" stroke-width="3.7" fill="none"/><path d="M1088.0,2468.6 V2487.0" stroke="#4338a0" stroke-width="4.3" fill="none"/>
<path d="M1101.5,2493.1 H1125.5" stroke="#4338a0" stroke-width="3.7" fill="none"/><path d="M1113.5,2483.9 V2502.3" stroke="#4338a0" stroke-width="4.3" fill="none"/>
<path d="M1221.4,2579.8 H1245.4" stroke="#4338a0" stroke-width="3.7" fill="none"/><path d="M1233.4,2570.6 V2589.0" stroke="#4338a0" stroke-width="4.3" fill="none"/>
<path d="M2224.7,2842.9 H2248.7" stroke="#4338a0" stroke-width="3.7" fill="none"/><path d="M2236.7,2833.7 V2852.1" stroke="#4338a0" stroke-width="4.3" fill="none"/>
<path d="M2240.0,2842.9 H2264.0" stroke="#4338a0" stroke-width="3.7" fill="none"/><path d="M2252.0,2833.7 V2852.1" stroke="#4338a0" stroke-width="4.3" fill="none"/>
<path d="M2256.6,2847.2 H2280.6" stroke="#4338a0" stroke-width="3.7" fill="none"/><path d="M2268.6,2838.0 V2856.4" stroke="#4338a0" stroke-width="4.3" fill="none"/>
<path d="M2264.3,2847.2 H2288.3" stroke="#4338a0" stroke-width="3.7" fill="none"/><path d="M2276.3,2838.0 V2856.4" stroke="#4338a0" stroke-width="4.3" fill="none"/>
<path d="M2271.9,2847.2 H2295.9" stroke="#4338a0" stroke-width="3.7" fill="none"/><path d="M2283.9,2838.0 V2856.4" stroke="#4338a0" stroke-width="4.3" fill="none"/>
<path d="M2320.4,2855.6 H2344.4" stroke="#4338a0" stroke-width="3.7" fill="none"/><path d="M2332.4,2846.4 V2864.8" stroke="#4338a0" stroke-width="4.3" fill="none"/>
<path d="M2337.0,2855.6 H2361.0" stroke="#4338a0" stroke-width="3.7" fill="none"/><path d="M2349.0,2846.4 V2864.8" stroke="#4338a0" stroke-width="4.3" fill="none"/>
<path d="M2353.1,2859.2 H2377.1" stroke="#4338a0" stroke-width="3.7" fill="none"/><path d="M2365.1,2850.0 V2868.4" stroke="#4338a0" stroke-width="4.3" fill="none"/>
<path d="M2369.4,2859.2 H2393.4" stroke="#4338a0" stroke-width="3.7" fill="none"/><path d="M2381.4,2850.0 V2868.4" stroke="#4338a0" stroke-width="4.3" fill="none"/>
<path d="M2386.7,2859.2 H2410.7" stroke="#4338a0" stroke-width="3.7" fill="none"/><path d="M2398.7,2850.0 V2868.4" stroke="#4338a0" stroke-width="4.3" fill="none"/>
<path d="M2432.1,2862.0 H2456.1" stroke="#4338a0" stroke-width="3.7" fill="none"/><path d="M2444.1,2852.8 V2871.2" stroke="#4338a0" stroke-width="4.3" fill="none"/>
<path d="M2457.6,2862.0 H2481.6" stroke="#4338a0" stroke-width="3.7" fill="none"/><path d="M2469.6,2852.8 V2871.2" stroke="#4338a0" stroke-width="4.3" fill="none"/>
<path d="M2489.3,2862.0 H2513.3" stroke="#4338a0" stroke-width="3.7" fill="none"/><path d="M2501.3,2852.8 V2871.2" stroke="#4338a0" stroke-width="4.3" fill="none"/>
<path d="M2551.3,2868.4 H2575.3" stroke="#4338a0" stroke-width="3.7" fill="none"/><path d="M2563.3,2859.2 V2877.6" stroke="#4338a0" stroke-width="4.3" fill="none"/>
<path d="M2570.9,2871.4 H2594.9" stroke="#4338a0" stroke-width="3.7" fill="none"/><path d="M2582.9,2862.2 V2880.6" stroke="#4338a0" stroke-width="4.3" fill="none"/>
<path d="M2636.7,2871.4 H2660.7" stroke="#4338a0" stroke-width="3.7" fill="none"/><path d="M2648.7,2862.2 V2880.6" stroke="#4338a0" stroke-width="4.3" fill="none"/>
<path d="M2636.9,2871.4 H2660.9" stroke="#4338a0" stroke-width="3.7" fill="none"/><path d="M2648.9,2862.2 V2880.6" stroke="#4338a0" stroke-width="4.3" fill="none"/>
<path d="M2674.7,2874.7 H2698.7" stroke="#4338a0" stroke-width="3.7" fill="none"/><path d="M2686.7,2865.5 V2883.9" stroke="#4338a0" stroke-width="4.3" fill="none"/>
<path d="M2739.0,2874.7 H2763.0" stroke="#4338a0" stroke-width="3.7" fill="none"/><path d="M2751.0,2865.5 V2883.9" stroke="#4338a0" stroke-width="4.3" fill="none"/>
<path d="M2932.1,2888.8 H2956.1" stroke="#4338a0" stroke-width="3.7" fill="none"/><path d="M2944.1,2879.6 V2898.0" stroke="#4338a0" stroke-width="4.3" fill="none"/>
<path d="M3066.8,2903.1 H3090.8" stroke="#4338a0" stroke-width="3.7" fill="none"/><path d="M3078.8,2893.9 V2912.3" stroke="#4338a0" stroke-width="4.3" fill="none"/>
<path d="M3090.2,2903.1 H3114.2" stroke="#4338a0" stroke-width="3.7" fill="none"/><path d="M3102.2,2893.9 V2912.3" stroke="#4338a0" stroke-width="4.3" fill="none"/>
<path d="M3111.9,2903.1 H3135.9" stroke="#4338a0" stroke-width="3.7" fill="none"/><path d="M3123.9,2893.9 V2912.3" stroke="#4338a0" stroke-width="4.3" fill="none"/>
<path d="M3066.2,2903.1 H3090.2" stroke="#4338a0" stroke-width="3.7" fill="none"/><path d="M3078.2,2893.9 V2912.3" stroke="#4338a0" stroke-width="4.3" fill="none"/>
<path d="M3090.4,2903.1 H3114.4" stroke="#4338a0" stroke-width="3.7" fill="none"/><path d="M3102.4,2893.9 V2912.3" stroke="#4338a0" stroke-width="4.3" fill="none"/>
<path d="M3111.6,2903.1 H3135.6" stroke="#4338a0" stroke-width="3.7" fill="none"/><path d="M3123.6,2893.9 V2912.3" stroke="#4338a0" stroke-width="4.3" fill="none"/>
<path d="M3132.5,2903.1 H3156.5" stroke="#4338a0" stroke-width="3.7" fill="none"/><path d="M3144.5,2893.9 V2912.3" stroke="#4338a0" stroke-width="4.3" fill="none"/>
<path d="M3155.0,2903.1 H3179.0" stroke="#4338a0" stroke-width="3.7" fill="none"/><path d="M3167.0,2893.9 V2912.3" stroke="#4338a0" stroke-width="4.3" fill="none"/>
<path d="M3176.7,2903.1 H3200.7" stroke="#4338a0" stroke-width="3.7" fill="none"/><path d="M3188.7,2893.9 V2912.3" stroke="#4338a0" stroke-width="4.3" fill="none"/>
<path d="M3198.3,2903.1 H3222.3" stroke="#4338a0" stroke-width="3.7" fill="none"/><path d="M3210.3,2893.9 V2912.3" stroke="#4338a0" stroke-width="4.3" fill="none"/>
<path d="M3220.5,2903.1 H3244.5" stroke="#4338a0" stroke-width="3.7" fill="none"/><path d="M3232.5,2893.9 V2912.3" stroke="#4338a0" stroke-width="4.3" fill="none"/>
<path d="M3270.3,2903.1 H3294.3" stroke="#4338a0" stroke-width="3.7" fill="none"/><path d="M3282.3,2893.9 V2912.3" stroke="#4338a0" stroke-width="4.3" fill="none"/>
<path d="M3292.0,2903.1 H3316.0" stroke="#4338a0" stroke-width="3.7" fill="none"/><path d="M3304.0,2893.9 V2912.3" stroke="#4338a0" stroke-width="4.3" fill="none"/>
<path d="M3313.7,2903.1 H3337.7" stroke="#4338a0" stroke-width="3.7" fill="none"/><path d="M3325.7,2893.9 V2912.3" stroke="#4338a0" stroke-width="4.3" fill="none"/>
<path d="M3335.8,2903.1 H3359.8" stroke="#4338a0" stroke-width="3.7" fill="none"/><path d="M3347.8,2893.9 V2912.3" stroke="#4338a0" stroke-width="4.3" fill="none"/>
<path d="M3357.0,2903.1 H3381.0" stroke="#4338a0" stroke-width="3.7" fill="none"/><path d="M3369.0,2893.9 V2912.3" stroke="#4338a0" stroke-width="4.3" fill="none"/>
<path d="M3378.2,2903.1 H3402.2" stroke="#4338a0" stroke-width="3.7" fill="none"/><path d="M3390.2,2893.9 V2912.3" stroke="#4338a0" stroke-width="4.3" fill="none"/>
<path d="M3399.6,2903.1 H3423.6" stroke="#4338a0" stroke-width="3.7" fill="none"/><path d="M3411.6,2893.9 V2912.3" stroke="#4338a0" stroke-width="4.3" fill="none"/>
<path d="M3420.8,2903.1 H3444.8" stroke="#4338a0" stroke-width="3.7" fill="none"/><path d="M3432.8,2893.9 V2912.3" stroke="#4338a0" stroke-width="4.3" fill="none"/>
<path d="M3443.0,2903.1 H3467.0" stroke="#4338a0" stroke-width="3.7" fill="none"/><path d="M3455.0,2893.9 V2912.3" stroke="#4338a0" stroke-width="4.3" fill="none"/>
<path d="M3507.5,2903.1 H3531.5" stroke="#4338a0" stroke-width="3.7" fill="none"/><path d="M3519.5,2893.9 V2912.3" stroke="#4338a0" stroke-width="4.3" fill="none"/>
<path d="M3529.7,2903.1 H3553.7" stroke="#4338a0" stroke-width="3.7" fill="none"/><path d="M3541.7,2893.9 V2912.3" stroke="#4338a0" stroke-width="4.3" fill="none"/>
<path d="M951.5,2413.3 L960.4,2413.3 L965.5,2413.3 L965.5,2419.1 L975.7,2419.1 L975.7,2423.0 L988.5,2423.0 L988.5,2429.3 L1003.8,2429.3 L1003.8,2433.2 L1019.1,2433.2 L1019.1,2438.3 L1024.2,2438.3 L1024.2,2444.6 L1029.3,2444.6 L1029.3,2448.5 L1042.0,2448.5 L1042.0,2452.3 L1054.8,2452.3 L1054.8,2456.1 L1062.4,2456.1 L1062.4,2459.9 L1079.0,2459.9 L1079.0,2461.2 L1081.6,2461.2 L1081.6,2472.7 L1093.1,2472.7 L1093.1,2480.4 L1103.3,2480.4 L1103.3,2489.3 L1123.7,2489.3 L1123.7,2496.9 L1127.5,2496.9 L1127.5,2507.1 L1141.5,2507.1 L1141.5,2512.2 L1154.3,2512.2 L1154.3,2525.0 L1172.1,2525.0 L1177.2,2525.0 L1177.2,2531.4 L1202.8,2531.4 L1202.8,2532.7 L1207.9,2532.7 L1207.9,2542.9 L1223.2,2542.9 L1223.2,2544.1 L1230.8,2544.1 L1230.8,2559.4 L1243.6,2559.4 L1243.6,2568.4 L1266.5,2568.4 L1266.5,2572.2 L1281.8,2572.2 L1281.8,2577.3 L1289.5,2577.3 L1289.5,2586.2 L1300.0,2586.2 L1300.0,2593.2 L1307.7,2593.2 L1307.7,2604.6 L1315.3,2604.6 L1315.3,2608.5 L1338.3,2608.5 L1338.3,2609.7 L1351.0,2609.7 L1351.0,2613.6 L1368.9,2613.6 L1368.9,2616.1 L1371.4,2616.1 L1371.4,2622.5 L1389.3,2622.5 L1389.3,2626.3 L1402.0,2626.3 L1402.0,2627.6 L1407.1,2627.6 L1407.1,2632.7 L1417.3,2632.7 L1417.3,2636.5 L1422.4,2636.5 L1422.4,2645.5 L1432.7,2645.5 L1432.7,2648.0 L1450.5,2648.0 L1450.5,2650.6 L1465.8,2650.6 L1465.8,2653.1 L1468.4,2653.1 L1468.4,2659.5 L1486.2,2659.5 L1486.2,2662.0 L1486.2,2665.9 L1506.6,2665.9 L1511.7,2665.9 L1511.7,2669.7 L1524.5,2669.7 L1524.5,2672.2 L1542.3,2672.2 L1542.3,2676.1 L1552.6,2676.1 L1552.6,2681.2 L1565.3,2681.2 L1565.3,2687.6 L1583.2,2687.6 L1583.2,2691.4 L1601.0,2691.4 L1601.0,2697.8 L1613.8,2697.8 L1613.8,2702.9 L1629.1,2702.9 L1629.1,2706.7 L1646.9,2706.7 L1646.9,2710.5 L1659.7,2710.5 L1659.7,2715.6 L1667.3,2715.6 L1667.3,2722.0 L1682.7,2722.0 L1682.7,2724.5 L1708.2,2724.5 L1708.2,2729.6 L1720.9,2729.6 L1720.9,2733.5 L1733.7,2733.5 L1733.7,2739.8 L1749.0,2739.8 L1749.0,2744.9 L1764.3,2744.9 L1764.3,2752.6 L1776.5,2752.6 L1776.5,2759.1 L1786.7,2759.1 L1786.7,2762.9 L1791.8,2762.9 L1791.8,2766.7 L1802.0,2766.7 L1802.0,2768.0 L1837.8,2768.0 L1837.8,2770.6 L1842.9,2770.6 L1842.9,2776.9 L1853.1,2776.9 L1853.1,2779.5 L1858.2,2779.5 L1858.2,2784.6 L1888.8,2784.6 L1888.8,2792.2 L1899.0,2792.2 L1901.5,2792.2 L1901.5,2796.1 L1927.0,2796.1 L1927.0,2799.4 L1947.4,2799.4 L1947.4,2803.7 L1967.9,2803.7 L1970.4,2803.7 L1970.4,2806.8 L2002.3,2806.8 L2002.3,2815.2 L2046.9,2815.2 L2048.2,2815.2 L2048.2,2821.6 L2053.3,2821.6 L2053.3,2828.0 L2085.2,2828.0 L2087.8,2828.0 L2087.8,2831.8 L2108.2,2831.8 L2108.2,2833.1 L2108.2,2836.1 L2149.0,2836.1 L2150.3,2836.1 L2150.3,2841.2 L2200.0,2841.2 L2201.0,2841.2 L2201.0,2840.3 L2211.2,2840.3 L2213.8,2840.3 L2213.8,2844.6 L2249.5,2844.6 L2249.5,2853.6 L2305.6,2853.6 L2338.8,2853.6 L2338.8,2854.1 L2338.8,2857.4 L2349.0,2857.4 L2349.0,2861.2 L2407.7,2861.2 L2408.9,2861.2 L2408.9,2866.8 L2505.9,2866.8 L2505.9,2876.0 L2573.5,2876.0 L2574.7,2876.0 L2574.7,2885.5 L2627.0,2885.5 L2628.3,2885.5 L2628.3,2889.3 L2650.0,2889.3 L2650.2,2889.3 L2650.2,2888.8 L2734.4,2888.8 L2734.4,2893.4 L2841.5,2893.4 L2841.5,2897.7 L2906.6,2897.7 L2906.6,2902.3 L3068.0,2902.3 L3142.0,2902.3 L3142.0,2907.4 L3256.8,2907.4 L3256.8,2916.3 L3534.8,2916.3" fill="none" stroke="#ec2418" stroke-width="3.7" stroke-linejoin="miter" stroke-linecap="butt"/>
<path d="M1030.0,2452.3 H1054.0" stroke="#ec2418" stroke-width="3.7" fill="none"/><path d="M1042.0,2443.1 V2461.5" stroke="#ec2418" stroke-width="4.3" fill="none"/>
<path d="M1225.2,2559.4 H1249.2" stroke="#ec2418" stroke-width="3.7" fill="none"/><path d="M1237.2,2550.2 V2568.6" stroke="#ec2418" stroke-width="4.3" fill="none"/>
<path d="M1286.4,2586.2 H1310.4" stroke="#ec2418" stroke-width="3.7" fill="none"/><path d="M1298.4,2577.0 V2595.4" stroke="#ec2418" stroke-width="4.3" fill="none"/>
<path d="M1427.8,2648.0 H1451.8" stroke="#ec2418" stroke-width="3.7" fill="none"/><path d="M1439.8,2638.8 V2657.2" stroke="#ec2418" stroke-width="4.3" fill="none"/>
<path d="M1507.4,2669.7 H1531.4" stroke="#ec2418" stroke-width="3.7" fill="none"/><path d="M1519.4,2660.5 V2678.9" stroke="#ec2418" stroke-width="4.3" fill="none"/>
<path d="M1511.2,2669.7 H1535.2" stroke="#ec2418" stroke-width="3.7" fill="none"/><path d="M1523.2,2660.5 V2678.9" stroke="#ec2418" stroke-width="4.3" fill="none"/>
<path d="M1515.0,2672.2 H1539.0" stroke="#ec2418" stroke-width="3.7" fill="none"/><path d="M1527.0,2663.0 V2681.4" stroke="#ec2418" stroke-width="4.3" fill="none"/>
<path d="M1518.9,2672.2 H1542.9" stroke="#ec2418" stroke-width="3.7" fill="none"/><path d="M1530.9,2663.0 V2681.4" stroke="#ec2418" stroke-width="4.3" fill="none"/>
<path d="M1526.5,2672.2 H1550.5" stroke="#ec2418" stroke-width="3.7" fill="none"/><path d="M1538.5,2663.0 V2681.4" stroke="#ec2418" stroke-width="4.3" fill="none"/>
<path d="M1534.2,2676.1 H1558.2" stroke="#ec2418" stroke-width="3.7" fill="none"/><path d="M1546.2,2666.9 V2685.3" stroke="#ec2418" stroke-width="4.3" fill="none"/>
<path d="M1538.0,2676.1 H1562.0" stroke="#ec2418" stroke-width="3.7" fill="none"/><path d="M1550.0,2666.9 V2685.3" stroke="#ec2418" stroke-width="4.3" fill="none"/>
<path d="M1543.1,2681.2 H1567.1" stroke="#ec2418" stroke-width="3.7" fill="none"/><path d="M1555.1,2672.0 V2690.4" stroke="#ec2418" stroke-width="4.3" fill="none"/>
<path d="M1548.2,2681.2 H1572.2" stroke="#ec2418" stroke-width="3.7" fill="none"/><path d="M1560.2,2672.0 V2690.4" stroke="#ec2418" stroke-width="4.3" fill="none"/>
<path d="M1553.3,2687.6 H1577.3" stroke="#ec2418" stroke-width="3.7" fill="none"/><path d="M1565.3,2678.4 V2696.8" stroke="#ec2418" stroke-width="4.3" fill="none"/>
<path d="M1563.5,2687.6 H1587.5" stroke="#ec2418" stroke-width="3.7" fill="none"/><path d="M1575.5,2678.4 V2696.8" stroke="#ec2418" stroke-width="4.3" fill="none"/>
<path d="M1577.5,2691.4 H1601.5" stroke="#ec2418" stroke-width="3.7" fill="none"/><path d="M1589.5,2682.2 V2700.6" stroke="#ec2418" stroke-width="4.3" fill="none"/>
<path d="M1585.2,2691.4 H1609.2" stroke="#ec2418" stroke-width="3.7" fill="none"/><path d="M1597.2,2682.2 V2700.6" stroke="#ec2418" stroke-width="4.3" fill="none"/>
<path d="M1594.1,2697.8 H1618.1" stroke="#ec2418" stroke-width="3.7" fill="none"/><path d="M1606.1,2688.6 V2707.0" stroke="#ec2418" stroke-width="4.3" fill="none"/>
<path d="M1606.9,2702.9 H1630.9" stroke="#ec2418" stroke-width="3.7" fill="none"/><path d="M1618.9,2693.7 V2712.1" stroke="#ec2418" stroke-width="4.3" fill="none"/>
<path d="M1614.5,2702.9 H1638.5" stroke="#ec2418" stroke-width="3.7" fill="none"/><path d="M1626.5,2693.7 V2712.1" stroke="#ec2418" stroke-width="4.3" fill="none"/>
<path d="M1619.6,2706.7 H1643.6" stroke="#ec2418" stroke-width="3.7" fill="none"/><path d="M1631.6,2697.5 V2715.9" stroke="#ec2418" stroke-width="4.3" fill="none"/>
<path d="M1631.1,2706.7 H1655.1" stroke="#ec2418" stroke-width="3.7" fill="none"/><path d="M1643.1,2697.5 V2715.9" stroke="#ec2418" stroke-width="4.3" fill="none"/>
<path d="M1643.9,2710.5 H1667.9" stroke="#ec2418" stroke-width="3.7" fill="none"/><path d="M1655.9,2701.3 V2719.7" stroke="#ec2418" stroke-width="4.3" fill="none"/>
<path d="M1647.7,2715.6 H1671.7" stroke="#ec2418" stroke-width="3.7" fill="none"/><path d="M1659.7,2706.4 V2724.8" stroke="#ec2418" stroke-width="4.3" fill="none"/>
<path d="M1652.8,2715.6 H1676.8" stroke="#ec2418" stroke-width="3.7" fill="none"/><path d="M1664.8,2706.4 V2724.8" stroke="#ec2418" stroke-width="4.3" fill="none"/>
<path d="M1656.6,2722.0 H1680.6" stroke="#ec2418" stroke-width="3.7" fill="none"/><path d="M1668.6,2712.8 V2731.2" stroke="#ec2418" stroke-width="4.3" fill="none"/>
<path d="M1668.1,2722.0 H1692.1" stroke="#ec2418" stroke-width="3.7" fill="none"/><path d="M1680.1,2712.8 V2731.2" stroke="#ec2418" stroke-width="4.3" fill="none"/>
<path d="M1673.2,2724.5 H1697.2" stroke="#ec2418" stroke-width="3.7" fill="none"/><path d="M1685.2,2715.3 V2733.7" stroke="#ec2418" stroke-width="4.3" fill="none"/>
<path d="M1677.0,2724.5 H1701.0" stroke="#ec2418" stroke-width="3.7" fill="none"/><path d="M1689.0,2715.3 V2733.7" stroke="#ec2418" stroke-width="4.3" fill="none"/>
<path d="M1691.1,2724.5 H1715.1" stroke="#ec2418" stroke-width="3.7" fill="none"/><path d="M1703.1,2715.3 V2733.7" stroke="#ec2418" stroke-width="4.3" fill="none"/>
<path d="M1703.8,2729.6 H1727.8" stroke="#ec2418" stroke-width="3.7" fill="none"/><path d="M1715.8,2720.4 V2738.8" stroke="#ec2418" stroke-width="4.3" fill="none"/>
<path d="M1708.9,2733.5 H1732.9" stroke="#ec2418" stroke-width="3.7" fill="none"/><path d="M1720.9,2724.3 V2742.7" stroke="#ec2418" stroke-width="4.3" fill="none"/>
<path d="M1714.0,2733.5 H1738.0" stroke="#ec2418" stroke-width="3.7" fill="none"/><path d="M1726.0,2724.3 V2742.7" stroke="#ec2418" stroke-width="4.3" fill="none"/>
<path d="M1721.7,2739.8 H1745.7" stroke="#ec2418" stroke-width="3.7" fill="none"/><path d="M1733.7,2730.6 V2749.0" stroke="#ec2418" stroke-width="4.3" fill="none"/>
<path d="M1726.8,2739.8 H1750.8" stroke="#ec2418" stroke-width="3.7" fill="none"/><path d="M1738.8,2730.6 V2749.0" stroke="#ec2418" stroke-width="4.3" fill="none"/>
<path d="M1737.0,2744.9 H1761.0" stroke="#ec2418" stroke-width="3.7" fill="none"/><path d="M1749.0,2735.7 V2754.1" stroke="#ec2418" stroke-width="4.3" fill="none"/>
<path d="M1744.6,2744.9 H1768.6" stroke="#ec2418" stroke-width="3.7" fill="none"/><path d="M1756.6,2735.7 V2754.1" stroke="#ec2418" stroke-width="4.3" fill="none"/>
<path d="M1753.6,2752.6 H1777.6" stroke="#ec2418" stroke-width="3.7" fill="none"/><path d="M1765.6,2743.4 V2761.8" stroke="#ec2418" stroke-width="4.3" fill="none"/>
<path d="M1690.6,2724.5 H1714.6" stroke="#ec2418" stroke-width="3.7" fill="none"/><path d="M1702.6,2715.3 V2733.7" stroke="#ec2418" stroke-width="4.3" fill="none"/>
<path d="M1703.3,2729.6 H1727.3" stroke="#ec2418" stroke-width="3.7" fill="none"/><path d="M1715.3,2720.4 V2738.8" stroke="#ec2418" stroke-width="4.3" fill="none"/>
<path d="M1709.7,2733.5 H1733.7" stroke="#ec2418" stroke-width="3.7" fill="none"/><path d="M1721.7,2724.3 V2742.7" stroke="#ec2418" stroke-width="4.3" fill="none"/>
<path d="M1713.5,2733.5 H1737.5" stroke="#ec2418" stroke-width="3.7" fill="none"/><path d="M1725.5,2724.3 V2742.7" stroke="#ec2418" stroke-width="4.3" fill="none"/>
<path d="M1718.6,2733.5 H1742.6" stroke="#ec2418" stroke-width="3.7" fill="none"/><path d="M1730.6,2724.3 V2742.7" stroke="#ec2418" stroke-width="4.3" fill="none"/>
<path d="M1722.4,2739.8 H1746.4" stroke="#ec2418" stroke-width="3.7" fill="none"/><path d="M1734.4,2730.6 V2749.0" stroke="#ec2418" stroke-width="4.3" fill="none"/>
<path d="M1726.3,2739.8 H1750.3" stroke="#ec2418" stroke-width="3.7" fill="none"/><path d="M1738.3,2730.6 V2749.0" stroke="#ec2418" stroke-width="4.3" fill="none"/>
<path d="M1730.1,2739.8 H1754.1" stroke="#ec2418" stroke-width="3.7" fill="none"/><path d="M1742.1,2730.6 V2749.0" stroke="#ec2418" stroke-width="4.3" fill="none"/>
<path d="M1735.2,2739.8 H1759.2" stroke="#ec2418" stroke-width="3.7" fill="none"/><path d="M1747.2,2730.6 V2749.0" stroke="#ec2418" stroke-width="4.3" fill="none"/>
<path d="M1742.8,2744.9 H1766.8" stroke="#ec2418" stroke-width="3.7" fill="none"/><path d="M1754.8,2735.7 V2754.1" stroke="#ec2418" stroke-width="4.3" fill="none"/>
<path d="M1746.7,2744.9 H1770.7" stroke="#ec2418" stroke-width="3.7" fill="none"/><path d="M1758.7,2735.7 V2754.1" stroke="#ec2418" stroke-width="4.3" fill="none"/>
<path d="M1753.1,2752.6 H1777.1" stroke="#ec2418" stroke-width="3.7" fill="none"/><path d="M1765.1,2743.4 V2761.8" stroke="#ec2418" stroke-width="4.3" fill="none"/>
<path d="M1758.2,2752.6 H1782.2" stroke="#ec2418" stroke-width="3.7" fill="none"/><path d="M1770.2,2743.4 V2761.8" stroke="#ec2418" stroke-width="4.3" fill="none"/>
<path d="M1763.3,2752.6 H1787.3" stroke="#ec2418" stroke-width="3.7" fill="none"/><path d="M1775.3,2743.4 V2761.8" stroke="#ec2418" stroke-width="4.3" fill="none"/>
<path d="M1767.1,2759.1 H1791.1" stroke="#ec2418" stroke-width="3.7" fill="none"/><path d="M1779.1,2749.9 V2768.3" stroke="#ec2418" stroke-width="4.3" fill="none"/>
<path d="M1770.9,2759.1 H1794.9" stroke="#ec2418" stroke-width="3.7" fill="none"/><path d="M1782.9,2749.9 V2768.3" stroke="#ec2418" stroke-width="4.3" fill="none"/>
<path d="M1774.7,2762.9 H1798.7" stroke="#ec2418" stroke-width="3.7" fill="none"/><path d="M1786.7,2753.7 V2772.1" stroke="#ec2418" stroke-width="4.3" fill="none"/>
<path d="M1792.6,2768.0 H1816.6" stroke="#ec2418" stroke-width="3.7" fill="none"/><path d="M1804.6,2758.8 V2777.2" stroke="#ec2418" stroke-width="4.3" fill="none"/>
<path d="M1811.7,2768.0 H1835.7" stroke="#ec2418" stroke-width="3.7" fill="none"/><path d="M1823.7,2758.8 V2777.2" stroke="#ec2418" stroke-width="4.3" fill="none"/>
<path d="M1832.9,2776.9 H1856.9" stroke="#ec2418" stroke-width="3.7" fill="none"/><path d="M1844.9,2767.7 V2786.1" stroke="#ec2418" stroke-width="4.3" fill="none"/>
<path d="M1855.1,2784.6 H1879.1" stroke="#ec2418" stroke-width="3.7" fill="none"/><path d="M1867.1,2775.4 V2793.8" stroke="#ec2418" stroke-width="4.3" fill="none"/>
<path d="M1875.5,2784.6 H1899.5" stroke="#ec2418" stroke-width="3.7" fill="none"/><path d="M1887.5,2775.4 V2793.8" stroke="#ec2418" stroke-width="4.3" fill="none"/>
<path d="M1898.5,2796.1 H1922.5" stroke="#ec2418" stroke-width="3.7" fill="none"/><path d="M1910.5,2786.9 V2805.3" stroke="#ec2418" stroke-width="4.3" fill="none"/>
<path d="M1948.2,2803.7 H1972.2" stroke="#ec2418" stroke-width="3.7" fill="none"/><path d="M1960.2,2794.5 V2812.9" stroke="#ec2418" stroke-width="4.3" fill="none"/>
<path d="M1973.7,2806.8 H1997.7" stroke="#ec2418" stroke-width="3.7" fill="none"/><path d="M1985.7,2797.6 V2816.0" stroke="#ec2418" stroke-width="4.3" fill="none"/>
<path d="M1986.5,2806.8 H2010.5" stroke="#ec2418" stroke-width="3.7" fill="none"/><path d="M1998.5,2797.6 V2816.0" stroke="#ec2418" stroke-width="4.3" fill="none"/>
<path d="M2084.7,2831.8 H2108.7" stroke="#ec2418" stroke-width="3.7" fill="none"/><path d="M2096.7,2822.6 V2841.0" stroke="#ec2418" stroke-width="4.3" fill="none"/>
<path d="M2291.1,2853.6 H2315.1" stroke="#ec2418" stroke-width="3.7" fill="none"/><path d="M2303.1,2844.4 V2862.8" stroke="#ec2418" stroke-width="4.3" fill="none"/>
<path d="M2926.0,2902.3 H2950.0" stroke="#ec2418" stroke-width="3.7" fill="none"/><path d="M2938.0,2893.1 V2911.5" stroke="#ec2418" stroke-width="4.3" fill="none"/>
<path d="M3054.0,2902.3 H3078.0" stroke="#ec2418" stroke-width="3.7" fill="none"/><path d="M3066.0,2893.1 V2911.5" stroke="#ec2418" stroke-width="4.3" fill="none"/>
<path d="M3074.9,2902.3 H3098.9" stroke="#ec2418" stroke-width="3.7" fill="none"/><path d="M3086.9,2893.1 V2911.5" stroke="#ec2418" stroke-width="4.3" fill="none"/>
<path d="M3096.1,2902.3 H3120.1" stroke="#ec2418" stroke-width="3.7" fill="none"/><path d="M3108.1,2893.1 V2911.5" stroke="#ec2418" stroke-width="4.3" fill="none"/>
<path d="M3116.5,2902.3 H3140.5" stroke="#ec2418" stroke-width="3.7" fill="none"/><path d="M3128.5,2893.1 V2911.5" stroke="#ec2418" stroke-width="4.3" fill="none"/>
<path d="M3075.1,2902.3 H3099.1" stroke="#ec2418" stroke-width="3.7" fill="none"/><path d="M3087.1,2893.1 V2911.5" stroke="#ec2418" stroke-width="4.3" fill="none"/>
<path d="M3096.8,2902.3 H3120.8" stroke="#ec2418" stroke-width="3.7" fill="none"/><path d="M3108.8,2893.1 V2911.5" stroke="#ec2418" stroke-width="4.3" fill="none"/>
<path d="M3116.7,2902.3 H3140.7" stroke="#ec2418" stroke-width="3.7" fill="none"/><path d="M3128.7,2893.1 V2911.5" stroke="#ec2418" stroke-width="4.3" fill="none"/>
<path d="M3141.5,2907.4 H3165.5" stroke="#ec2418" stroke-width="3.7" fill="none"/><path d="M3153.5,2898.2 V2916.6" stroke="#ec2418" stroke-width="4.3" fill="none"/>
<path d="M3163.7,2907.4 H3187.7" stroke="#ec2418" stroke-width="3.7" fill="none"/><path d="M3175.7,2898.2 V2916.6" stroke="#ec2418" stroke-width="4.3" fill="none"/>
<path d="M3185.3,2907.4 H3209.3" stroke="#ec2418" stroke-width="3.7" fill="none"/><path d="M3197.3,2898.2 V2916.6" stroke="#ec2418" stroke-width="4.3" fill="none"/>
<path d="M3209.6,2907.4 H3233.6" stroke="#ec2418" stroke-width="3.7" fill="none"/><path d="M3221.6,2898.2 V2916.6" stroke="#ec2418" stroke-width="4.3" fill="none"/>
<path d="M3232.5,2907.4 H3256.5" stroke="#ec2418" stroke-width="3.7" fill="none"/><path d="M3244.5,2898.2 V2916.6" stroke="#ec2418" stroke-width="4.3" fill="none"/>
<path d="M3274.6,2916.3 H3298.6" stroke="#ec2418" stroke-width="3.7" fill="none"/><path d="M3286.6,2907.1 V2925.5" stroke="#ec2418" stroke-width="4.3" fill="none"/>
<path d="M3303.4,2916.3 H3327.4" stroke="#ec2418" stroke-width="3.7" fill="none"/><path d="M3315.4,2907.1 V2925.5" stroke="#ec2418" stroke-width="4.3" fill="none"/>
<path d="M3338.7,2916.3 H3362.7" stroke="#ec2418" stroke-width="3.7" fill="none"/><path d="M3350.7,2907.1 V2925.5" stroke="#ec2418" stroke-width="4.3" fill="none"/>
<path d="M3370.5,2916.3 H3394.5" stroke="#ec2418" stroke-width="3.7" fill="none"/><path d="M3382.5,2907.1 V2925.5" stroke="#ec2418" stroke-width="4.3" fill="none"/>
<path d="M3392.0,2916.3 H3416.0" stroke="#ec2418" stroke-width="3.7" fill="none"/><path d="M3404.0,2907.1 V2925.5" stroke="#ec2418" stroke-width="4.3" fill="none"/>
<path d="M3423.9,2916.3 H3447.9" stroke="#ec2418" stroke-width="3.7" fill="none"/><path d="M3435.9,2907.1 V2925.5" stroke="#ec2418" stroke-width="4.3" fill="none"/>
<path d="M3499.1,2916.3 H3523.1" stroke="#ec2418" stroke-width="3.7" fill="none"/><path d="M3511.1,2907.1 V2925.5" stroke="#ec2418" stroke-width="4.3" fill="none"/>
<path d="M3509.6,2916.3 H3533.6" stroke="#ec2418" stroke-width="3.7" fill="none"/><path d="M3521.6,2907.1 V2925.5" stroke="#ec2418" stroke-width="4.3" fill="none"/>
<line x1="951.10" y1="2411.70" x2="951.10" y2="3047.60" stroke="#231f20" stroke-width="4.1" />
<line x1="925.70" y1="3024.60" x2="3568.00" y2="3024.60" stroke="#231f20" stroke-width="4.1" />
<line x1="925.70" y1="2413.40" x2="951.10" y2="2413.40" stroke="#231f20" stroke-width="3.8" />
<line x1="925.70" y1="2566.20" x2="951.10" y2="2566.20" stroke="#231f20" stroke-width="3.8" />
<line x1="925.70" y1="2719.00" x2="951.10" y2="2719.00" stroke="#231f20" stroke-width="3.8" />
<line x1="925.70" y1="2871.80" x2="951.10" y2="2871.80" stroke="#231f20" stroke-width="3.8" />
<line x1="1371.04" y1="3024.60" x2="1371.04" y2="3051.60" stroke="#231f20" stroke-width="4.2" />
<line x1="1790.89" y1="3024.60" x2="1790.89" y2="3051.60" stroke="#231f20" stroke-width="4.2" />
<line x1="2210.73" y1="3024.60" x2="2210.73" y2="3051.60" stroke="#231f20" stroke-width="4.2" />
<line x1="2630.58" y1="3024.60" x2="2630.58" y2="3051.60" stroke="#231f20" stroke-width="4.2" />
<line x1="3050.42" y1="3024.60" x2="3050.42" y2="3051.60" stroke="#231f20" stroke-width="4.2" />
<line x1="3470.26" y1="3024.60" x2="3470.26" y2="3051.60" stroke="#231f20" stroke-width="4.2" />
<text x="836.94" y="2432.20" font-size="48" font-weight="normal" font-style="normal" fill="#231f20" textLength="80.09" lengthAdjust="spacingAndGlyphs">100</text>
<text x="863.62" y="2585.00" font-size="48" font-weight="normal" font-style="normal" fill="#231f20" textLength="53.39" lengthAdjust="spacingAndGlyphs">75</text>
<text x="863.62" y="2737.80" font-size="48" font-weight="normal" font-style="normal" fill="#231f20" textLength="53.39" lengthAdjust="spacingAndGlyphs">50</text>
<text x="863.62" y="2890.60" font-size="48" font-weight="normal" font-style="normal" fill="#231f20" textLength="53.39" lengthAdjust="spacingAndGlyphs">25</text>
<text x="890.31" y="3043.40" font-size="48" font-weight="normal" font-style="normal" fill="#231f20" textLength="26.70" lengthAdjust="spacingAndGlyphs">0</text>
<text x="937.86" y="3097.30" font-size="48" font-weight="normal" font-style="normal" fill="#231f20" textLength="26.70" lengthAdjust="spacingAndGlyphs">0</text>
<text x="1344.36" y="3097.30" font-size="48" font-weight="normal" font-style="normal" fill="#231f20" textLength="53.39" lengthAdjust="spacingAndGlyphs">12</text>
<text x="1764.20" y="3097.30" font-size="48" font-weight="normal" font-style="normal" fill="#231f20" textLength="53.39" lengthAdjust="spacingAndGlyphs">24</text>
<text x="2184.04" y="3097.30" font-size="48" font-weight="normal" font-style="normal" fill="#231f20" textLength="53.39" lengthAdjust="spacingAndGlyphs">36</text>
<text x="2603.89" y="3097.30" font-size="48" font-weight="normal" font-style="normal" fill="#231f20" textLength="53.39" lengthAdjust="spacingAndGlyphs">48</text>
<text x="3023.73" y="3097.30" font-size="48" font-weight="normal" font-style="normal" fill="#231f20" textLength="53.39" lengthAdjust="spacingAndGlyphs">60</text>
<text x="3443.58" y="3097.30" font-size="48" font-weight="normal" font-style="normal" fill="#231f20" textLength="53.39" lengthAdjust="spacingAndGlyphs">72</text>
<text x="1961.50" y="3178.80" font-size="49.5" font-weight="normal" font-style="normal" fill="#231f20" textLength="595.06" lengthAdjust="spacingAndGlyphs">Months since randomisation</text>
<text x="517.00" y="3218.60" font-size="50" font-weight="bold" font-style="normal" fill="#231f20" textLength="322.95" lengthAdjust="spacingAndGlyphs">Number at risk</text>
<text x="609.00" y="3283.00" font-size="50" font-weight="bold" font-style="normal" fill="#231f20" textLength="231.08" lengthAdjust="spacingAndGlyphs">(censored)</text>
<text x="-3.00" y="3348.00" font-size="49.5" font-weight="normal" font-style="normal" fill="#231f20" textLength="844.05" lengthAdjust="spacingAndGlyphs">Dual CTLA-4 and PD-L1 or PD-1 blockade</text>
<text x="220.00" y="3412.50" font-size="49.5" font-weight="normal" font-style="normal" fill="#231f20" textLength="621.02" lengthAdjust="spacingAndGlyphs">Single PD-L1 or PD-1 blockade</text>
<text x="875.00" y="3348.00" font-size="48" font-weight="normal" font-style="normal" fill="#231f20" textLength="153.20" lengthAdjust="spacingAndGlyphs">293 (0)</text>
<text x="1292.00" y="3348.00" font-size="48" font-weight="normal" font-style="normal" fill="#231f20" textLength="151.28" lengthAdjust="spacingAndGlyphs">178 (7)</text>
<text x="1705.00" y="3348.00" font-size="48" font-weight="normal" font-style="normal" fill="#231f20" textLength="146.24" lengthAdjust="spacingAndGlyphs">117 (7)</text>
<text x="2132.00" y="3348.00" font-size="48" font-weight="normal" font-style="normal" fill="#231f20" textLength="125.71" lengthAdjust="spacingAndGlyphs">85 (7)</text>
<text x="2554.00" y="3348.00" font-size="48" font-weight="normal" font-style="normal" fill="#231f20" textLength="153.11" lengthAdjust="spacingAndGlyphs">47 (34)</text>
<text x="2972.00" y="3348.00" font-size="48" font-weight="normal" font-style="normal" fill="#231f20" textLength="156.68" lengthAdjust="spacingAndGlyphs">34 (38)</text>
<text x="3395.00" y="3348.00" font-size="48" font-weight="normal" font-style="normal" fill="#231f20" textLength="130.22" lengthAdjust="spacingAndGlyphs">3 (69)</text>
<text x="875.00" y="3412.50" font-size="48" font-weight="normal" font-style="normal" fill="#231f20" textLength="148.20" lengthAdjust="spacingAndGlyphs">337 (0)</text>
<text x="1293.00" y="3412.50" font-size="48" font-weight="normal" font-style="normal" fill="#231f20" textLength="154.18" lengthAdjust="spacingAndGlyphs">220 (4)</text>
<text x="1718.50" y="3412.50" font-size="48" font-weight="normal" font-style="normal" fill="#231f20" textLength="156.20" lengthAdjust="spacingAndGlyphs">93 (59)</text>
<text x="2133.00" y="3412.50" font-size="48" font-weight="normal" font-style="normal" fill="#231f20" textLength="157.13" lengthAdjust="spacingAndGlyphs">43 (89)</text>
<text x="2553.00" y="3412.50" font-size="48" font-weight="normal" font-style="normal" fill="#231f20" textLength="155.17" lengthAdjust="spacingAndGlyphs">31 (90)</text>
<text x="2972.00" y="3412.50" font-size="48" font-weight="normal" font-style="normal" fill="#231f20" textLength="149.18" lengthAdjust="spacingAndGlyphs">27 (91)</text>
<text x="3395.00" y="3412.50" font-size="48" font-weight="normal" font-style="normal" fill="#231f20" textLength="150.19" lengthAdjust="spacingAndGlyphs">2 (114)</text>
</svg></body></html>
